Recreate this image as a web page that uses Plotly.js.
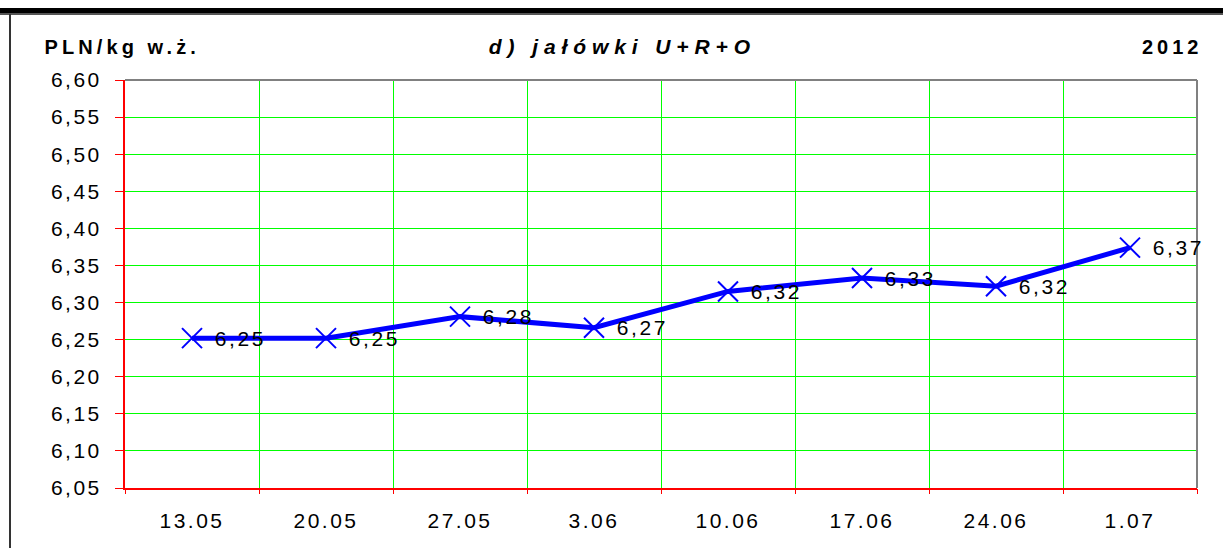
<!DOCTYPE html>
<html>
<head>
<meta charset="utf-8">
<script src="https://cdn.plot.ly/plotly-3.0.1.min.js"></script>
<style>
  html, body { margin: 0; padding: 0; background: #fff; }
  #wrap { position: relative; width: 1223px; height: 548px; overflow: hidden; }
  #chart { position: absolute; left: 0; top: 0; width: 1223px; height: 548px; }
  .bar { position: absolute; left: 0; top: 8px; width: 1223px; height: 5px; background: #000; pointer-events: none; }
  .bar2 { position: absolute; left: 0; top: 13px; width: 1223px; height: 2px; background: #555; pointer-events: none; }
  .vline { position: absolute; left: 9px; top: 14px; width: 2px; height: 534px; background: #333; pointer-events: none; }
  .xtick text, .ytick text { letter-spacing: 2.5px; }
  g.annotation text.annotation-text { letter-spacing: 2.6px; }
  g.annotation[data-index="8"] text.annotation-text { letter-spacing: 4.1px; }
  g.annotation[data-index="9"] text.annotation-text { letter-spacing: 5.9px; }
  g.annotation[data-index="10"] text.annotation-text { letter-spacing: 4px; }
</style>
</head>
<body>
<div id="wrap">
  <div id="chart"></div>
  <div class="bar"></div>
  <div class="bar2"></div>
  <div class="vline"></div>
</div>
<script>
const categories = ['13.05', '20.05', '27.05', '3.06', '10.06', '17.06', '24.06', '1.07'];
const prices = [6.252, 6.252, 6.281, 6.266, 6.315, 6.333, 6.322, 6.374];
const priceLabels = ['6,25', '6,25', '6,28', '6,27', '6,32', '6,33', '6,32', '6,37'];
const unitLabel = 'PLN/kg w.ż.';
const chartTitle = 'd) jałówki U+R+O';
const yearLabel = '2012';

const positions = categories.map((c, i) => i);

const trace = {
  x: positions,
  y: prices,
  type: 'scatter',
  mode: 'lines+markers',
  line: { color: '#0000ff', width: 5 },
  marker: { symbol: 'x-thin-open', size: 20, color: '#0000ff', line: { color: '#0000ff', width: 2 } },
  hoverinfo: 'none',
  showlegend: false
};

const labelAnnotations = categories.map((c, i) => ({
  x: positions[i], y: prices[i], xref: 'x', yref: 'y',
  text: priceLabels[i], showarrow: false,
  xanchor: 'left', yanchor: 'middle', xshift: 26, yshift: 0,
  font: { family: 'Liberation Sans, Arial, sans-serif', size: 21, color: '#000' }
}));

const layout = {
  width: 1223, height: 548,
  margin: { l: 125, r: 26, t: 80, b: 60 },
  paper_bgcolor: '#ffffff', plot_bgcolor: '#ffffff',
  separators: ', ',
  font: { family: 'Liberation Sans, Arial, sans-serif', color: '#000' },
  xaxis: {
    type: 'linear',
    tickmode: 'array',
    tickvals: positions,
    ticktext: categories,
    showgrid: false,
    showline: true, linecolor: '#ff0000', linewidth: 2,
    ticks: '',
    tickfont: { size: 21, color: '#000' },
    ticklabelstandoff: 13,
    range: [-0.5, categories.length - 0.5],
    zeroline: false
  },
  xaxis2: {
    overlaying: 'x', matches: 'x', side: 'bottom',
    tickmode: 'array',
    tickvals: positions.map(p => p - 0.5).concat([categories.length - 0.5]),
    showticklabels: false,
    showgrid: true, gridcolor: '#00ff00', gridwidth: 1,
    ticks: 'outside', ticklen: 5, tickcolor: '#ff0000', tickwidth: 1,
    range: [-0.5, categories.length - 0.5],
    zeroline: false
  },
  yaxis: {
    range: [6.05, 6.60], dtick: 0.05, tick0: 6.05,
    tickformat: '.2f',
    showgrid: true, gridcolor: '#00ff00', gridwidth: 1,
    showline: true, linecolor: '#ff0000', linewidth: 2,
    ticks: 'outside', ticklen: 8, tickcolor: '#ff0000', tickwidth: 1,
    tickfont: { size: 21, color: '#000' },
    ticklabelstandoff: 9,
    zeroline: false
  },
  shapes: [
    { type: 'line', xref: 'paper', yref: 'paper', x0: 0, x1: 1, y0: 1, y1: 1, line: { color: '#808080', width: 2 }, layer: 'above' },
    { type: 'line', xref: 'paper', yref: 'paper', x0: 1, x1: 1, y0: 0, y1: 1, line: { color: '#808080', width: 2 }, layer: 'above' }
  ],
  annotations: labelAnnotations.concat([
    { xref: 'paper', yref: 'paper', x: -0.0028, y: 1.081, xanchor: 'center', yanchor: 'middle', text: unitLabel, showarrow: false,
      font: { size: 20, weight: 'bold', color: '#000' } },
    { xref: 'paper', yref: 'paper', x: 0.4645, y: 1.081, xanchor: 'center', yanchor: 'middle', text: chartTitle, showarrow: false,
      font: { size: 21, weight: 'bold', style: 'italic', color: '#000' } },
    { xref: 'paper', yref: 'paper', x: 0.9767, y: 1.081, xanchor: 'center', yanchor: 'middle', text: yearLabel, showarrow: false,
      font: { size: 20, weight: 'bold', color: '#000' } }
  ])
};

const ghost = { x: [0], y: [6.05], xaxis: 'x2', type: 'scatter', mode: 'markers', marker: { opacity: 0 }, hoverinfo: 'none', showlegend: false };

Plotly.newPlot('chart', [ghost, trace], layout, { staticPlot: true, displayModeBar: false });
</script>
</body>
</html>
